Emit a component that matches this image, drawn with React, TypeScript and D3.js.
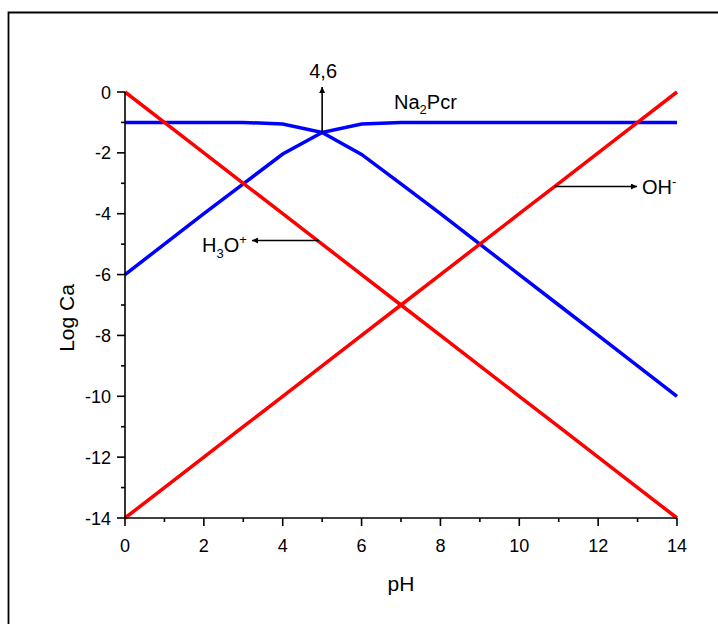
import React from "react";
import * as d3 from "d3";

const pH = [0, 1, 2, 3, 4, 5, 6, 7, 8, 9, 10, 11, 12, 13, 14];
const logH3O = [0, -1, -2, -3, -4, -5, -6, -7, -8, -9, -10, -11, -12, -13, -14];
const logOH = [-14, -13, -12, -11, -10, -9, -8, -7, -6, -5, -4, -3, -2, -1, 0];
const logNa2Pcr = [-1, -1, -1, -1, -1.05, -1.33, -1.05, -1, -1, -1, -1, -1, -1, -1, -1];
const logHPcr = [-6, -5, -4, -3.02, -2.04, -1.33, -2.05, -3.02, -4, -5, -6, -7, -8, -9, -10];
const xTicks = [0, 2, 4, 6, 8, 10, 12, 14];
const yTicks = [0, -2, -4, -6, -8, -10, -12, -14];

const FONT = "'Liberation Sans', Arial, sans-serif";

export default function App() {
  const W = 718, H = 624;
  const x = d3.scaleLinear().domain([0, 14]).range([125, 677]);
  const y = d3.scaleLinear().domain([0, -14]).range([92, 518]);
  const line = (ys: number[]) =>
    d3.line<number>().x((d) => x(d)).y((_, i) => y(ys[i]))(pH) || "";
  const minorX = d3.range(1, 14, 2);
  const minorY = d3.range(-1, -14, -2);

  return (
    <svg width={W} height={H} style={{ position: "absolute", left: 0, top: 0, fontFamily: FONT }}>
      <defs>
        <marker id="ah" viewBox="0 0 10 10" refX="10" refY="5" markerWidth="10" markerHeight="6" orient="auto" markerUnits="userSpaceOnUse">
          <path d="M0,0 L10,5 L0,10 Z" fill="#000" />
        </marker>
      </defs>
      <rect x={0} y={0} width={W} height={H} fill="#fff" />
      <path d={`M8.5,${H} L8.5,12.5 L${W},12.5`} fill="none" stroke="#000" strokeWidth={1.8} />

      {/* series */}
      <path d={line(logNa2Pcr)} fill="none" stroke="#0000ff" strokeWidth={3.5} />
      <path d={line(logHPcr)} fill="none" stroke="#0000ff" strokeWidth={3.5} />
      <path d={line(logH3O)} fill="none" stroke="#ff0000" strokeWidth={3.5} />
      <path d={line(logOH)} fill="none" stroke="#ff0000" strokeWidth={3.5} />

      {/* axes */}
      <line x1={x(0)} x2={x(14)} y1={y(-14)} y2={y(-14)} stroke="#000" strokeWidth={1.6} />
      <line x1={x(0)} x2={x(0)} y1={y(0)} y2={y(-14)} stroke="#000" strokeWidth={1.6} />
      {xTicks.map((t) => (
        <g key={"xt" + t}>
          <line x1={x(t)} x2={x(t)} y1={y(-14)} y2={y(-14) + 8} stroke="#000" strokeWidth={1.6} />
          <text x={x(t)} y={552} fontSize={18} textAnchor="middle">{t}</text>
        </g>
      ))}
      {minorX.map((t) => (
        <line key={"xm" + t} x1={x(t)} x2={x(t)} y1={y(-14)} y2={y(-14) + 4} stroke="#000" strokeWidth={1.6} />
      ))}
      {yTicks.map((t) => (
        <g key={"yt" + t}>
          <line x1={x(0) - 8} x2={x(0)} y1={y(t)} y2={y(t)} stroke="#000" strokeWidth={1.6} />
          <text x={111} y={y(t) + 6.5} fontSize={18} textAnchor="end">{t}</text>
        </g>
      ))}
      {minorY.map((t) => (
        <line key={"ym" + t} x1={x(0) - 4} x2={x(0)} y1={y(t)} y2={y(t)} stroke="#000" strokeWidth={1.6} />
      ))}

      <text x={401} y={591} fontSize={21} textAnchor="middle">pH</text>
      <text transform="translate(74,318) rotate(-90)" fontSize={21} textAnchor="middle">Log Ca</text>

      {/* annotations */}
      <line x1={x(5)} x2={x(5)} y1={y(-1.33)} y2={87} stroke="#000" strokeWidth={1.6} markerEnd="url(#ah)" />
      <text x={x(5) + 1} y={78} fontSize={20} textAnchor="middle">4,6</text>
      <text x={394} y={109} fontSize={20}>
        Na<tspan dy={5} fontSize={13}>2</tspan><tspan dy={-5}>Pcr</tspan>
      </text>
      <line x1={319} x2={252} y1={240.5} y2={240.5} stroke="#000" strokeWidth={1.6} markerEnd="url(#ah)" />
      <text x={202} y={252} fontSize={20}>
        H<tspan dy={6} fontSize={13}>3</tspan><tspan dy={-6}>O</tspan><tspan dy={-8} fontSize={13}>+</tspan>
      </text>
      <line x1={555} x2={637} y1={186.5} y2={186.5} stroke="#000" strokeWidth={1.6} markerEnd="url(#ah)" />
      <text x={642} y={194} fontSize={20}>
        OH<tspan dy={-8} fontSize={13}>-</tspan>
      </text>
    </svg>
  );
}
